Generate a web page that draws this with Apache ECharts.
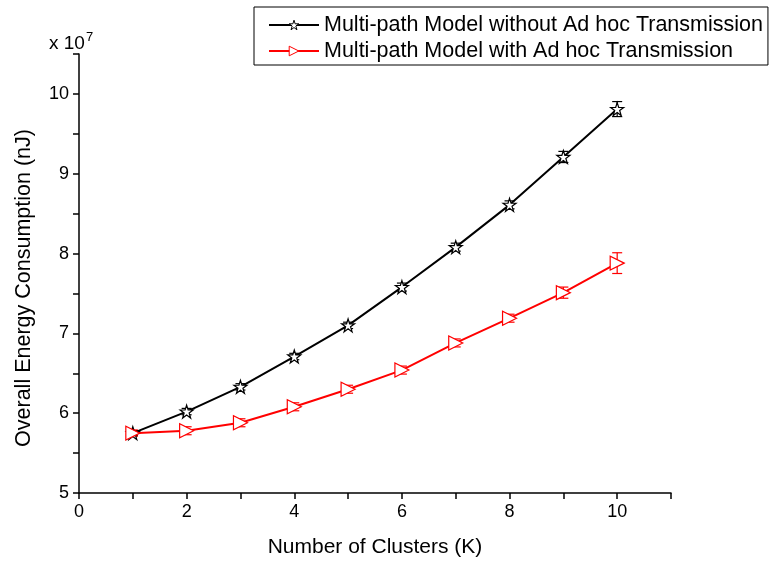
<!DOCTYPE html>
<html>
<head>
<meta charset="utf-8">
<script src="https://cdn.jsdelivr.net/npm/echarts@6/dist/echarts.min.js"></script>
<style>
html,body{margin:0;padding:0;background:#fff;}
#c{width:773px;height:563px;}
</style>
</head>
<body>
<div id="c"></div>
<script>
const clusters = [1, 2, 3, 4, 5, 6, 7, 8, 9, 10];
const withoutAdhoc = [5.75, 6.02, 6.33, 6.71, 7.10, 7.58, 8.08, 8.61, 9.21, 9.81];
const withoutAdhocErr = [0.03, 0.04, 0.04, 0.04, 0.04, 0.05, 0.05, 0.05, 0.07, 0.094];
const withAdhoc = [5.75, 5.78, 5.88, 6.08, 6.30, 6.54, 6.88, 7.19, 7.51, 7.88];
const withAdhocErr = [0.04, 0.05, 0.05, 0.05, 0.05, 0.05, 0.05, 0.05, 0.07, 0.13];
const seriesNames = ['Multi-path Model without Ad hoc Transmission', 'Multi-path Model with Ad hoc Transmission'];
const xTicks = [0, 2, 4, 6, 8, 10];
const yTicks = [5, 6, 7, 8, 9, 10];

const FONT = '"Liberation Sans", Arial, sans-serif';
const starPath = 'path://M50,2 L61,36 L97,36 L68,57 L79,92 L50,71 L21,92 L32,57 L3,36 L39,36 Z';

function errorSeries(vals, errs, color) {
  const data = clusters.map((x, i) => [x, vals[i], errs[i]]);
  return {
    type: 'custom',
    silent: true,
    z: 3,
    data: data,
    renderItem: function (params, api) {
      const x = api.value(0), v = api.value(1), e = api.value(2);
      const top = api.coord([x, v + e]);
      const bot = api.coord([x, v - e]);
      const w = 5;
      const st = {stroke: color, lineWidth: 1.2};
      return {
        type: 'group',
        children: [
          {type: 'line', shape: {x1: top[0], y1: top[1], x2: bot[0], y2: bot[1]}, style: st},
          {type: 'line', shape: {x1: top[0] - w, y1: top[1], x2: top[0] + w, y2: top[1]}, style: st},
          {type: 'line', shape: {x1: bot[0] - w, y1: bot[1], x2: bot[0] + w, y2: bot[1]}, style: st}
        ]
      };
    }
  };
}

const chart = echarts.init(document.getElementById('c'), null, {renderer: 'canvas'});
chart.setOption({
  backgroundColor: '#fff',
  animation: false,
  grid: {left: 79, right: 102, top: 54, bottom: 70},
  legend: {
    left: 254, top: 7,
    orient: 'vertical',
    data: [
      {name: seriesNames[0], itemStyle: {color: '#fff', borderColor: '#000', borderWidth: 1}},
      {name: seriesNames[1], itemStyle: {color: '#fff', borderColor: '#ff0000', borderWidth: 1}}
    ],
    borderColor: '#000', borderWidth: 1,
    padding: [7, 5, 3, 14],
    itemGap: 4,
    itemWidth: 50, itemHeight: 12,
    itemTextGap: 6,
    textStyle: {fontFamily: FONT, fontSize: 21.5, color: '#000'}
  },
  xAxis: {
    type: 'value', min: 0, max: 11, interval: 1,
    axisLine: {lineStyle: {color: '#000', width: 1.5}},
    axisTick: {inside: false, length: 6, lineStyle: {color: '#000', width: 1.5}},
    axisLabel: {
      fontFamily: FONT, fontSize: 18, color: '#000', margin: 10,
      formatter: v => xTicks.indexOf(v) >= 0 ? String(v) : ''
    },
    splitLine: {show: false},
    name: 'Number of Clusters (K)', nameLocation: 'middle', nameGap: 44,
    nameTextStyle: {fontFamily: FONT, fontSize: 21, color: '#000'}
  },
  yAxis: {
    type: 'value', min: 5, max: 10.5, interval: 0.5,
    axisLine: {show: true, lineStyle: {color: '#000', width: 1.5}},
    axisTick: {show: true, inside: false, length: 6, lineStyle: {color: '#000', width: 1.5}},
    axisLabel: {
      fontFamily: FONT, fontSize: 18, color: '#000', margin: 10,
      formatter: v => yTicks.indexOf(v) >= 0 ? String(v) : ''
    },
    splitLine: {show: false}
  },
  graphic: [
    {
      type: 'text', left: 49, top: 31,
      style: {
        text: '{a|x 10}{b|7}',
        rich: {
          a: {fontFamily: FONT, fontSize: 19, fill: '#000'},
          b: {fontFamily: FONT, fontSize: 13, fill: '#000', verticalAlign: 'top', padding: [0, 0, 12, 1]}
        }
      }
    },
    {
      type: 'text', x: 24, y: 288, rotation: Math.PI / 2,
      style: {
        text: 'Overall Energy Consumption (nJ)',
        fontFamily: FONT, fontSize: 21.5, fill: '#000',
        align: 'center', verticalAlign: 'middle'
      }
    }
  ],
  series: [
    {
      name: seriesNames[0], type: 'line',
      data: clusters.map((x, i) => [x, withoutAdhoc[i]]),
      symbol: starPath, symbolSize: 13,
      lineStyle: {color: '#000', width: 2},
      itemStyle: {color: '#fff', borderColor: '#000', borderWidth: 1.2},
      z: 4
    },
    {
      name: seriesNames[1], type: 'line',
      data: clusters.map((x, i) => [x, withAdhoc[i]]),
      symbol: 'triangle', symbolRotate: -90, symbolSize: [14, 14],
      lineStyle: {color: '#ff0000', width: 2},
      itemStyle: {color: '#fff', borderColor: '#ff0000', borderWidth: 1.2},
      z: 4
    },
    errorSeries(withoutAdhoc, withoutAdhocErr, '#000'),
    errorSeries(withAdhoc, withAdhocErr, '#ff0000')
  ]
});
</script>
</body>
</html>
